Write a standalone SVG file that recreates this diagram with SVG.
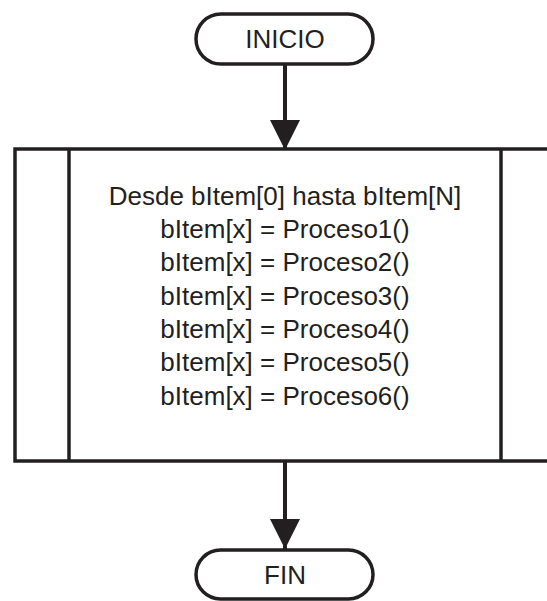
<svg xmlns="http://www.w3.org/2000/svg" width="547" height="601" viewBox="0 0 547 601">
  <style>
    .shape { fill: #ffffff; stroke: #231f20; stroke-width: 3.5; }
    .line { stroke: #231f20; stroke-width: 4; fill: none; }
    .lbl { font-family: "Liberation Sans", Arial, sans-serif; font-size: 26px; fill: #231f20; text-anchor: middle; }
  </style>
  <defs>
    <marker id="arrow" markerUnits="userSpaceOnUse" markerWidth="32" markerHeight="32" refX="30" refY="15" orient="auto">
      <path d="M0,0 L30,15 L0,30 Z" fill="#231f20"/>
    </marker>
  </defs>
  <rect width="547" height="601" fill="#ffffff"/>

  <g id="connectors">
    <line class="line" x1="285" y1="64" x2="285" y2="150" marker-end="url(#arrow)"/>
    <line class="line" x1="285" y1="461" x2="285" y2="549" marker-end="url(#arrow)"/>
  </g>

  <g id="inicio">
    <rect class="shape" x="196" y="14" width="177" height="50" rx="25" ry="25"/>
    <text class="lbl" x="285" y="48">INICIO</text>
  </g>

  <g id="proceso">
    <rect class="shape" x="15" y="149" width="540" height="312"/>
    <line class="shape" x1="69" y1="149" x2="69" y2="461"/>
    <line class="shape" x1="501" y1="149" x2="501" y2="461"/>
    <text class="lbl" x="285" y="205">Desde bItem[0] hasta bItem[N]</text>
    <text class="lbl" x="285" y="238">bItem[x] = Proceso1()</text>
    <text class="lbl" x="285" y="271">bItem[x] = Proceso2()</text>
    <text class="lbl" x="285" y="305">bItem[x] = Proceso3()</text>
    <text class="lbl" x="285" y="338">bItem[x] = Proceso4()</text>
    <text class="lbl" x="285" y="371">bItem[x] = Proceso5()</text>
    <text class="lbl" x="285" y="405">bItem[x] = Proceso6()</text>
  </g>

  <g id="fin">
    <rect class="shape" x="196" y="550" width="177" height="49" rx="24.5" ry="24.5"/>
    <text class="lbl" x="285" y="584">FIN</text>
  </g>
</svg>
